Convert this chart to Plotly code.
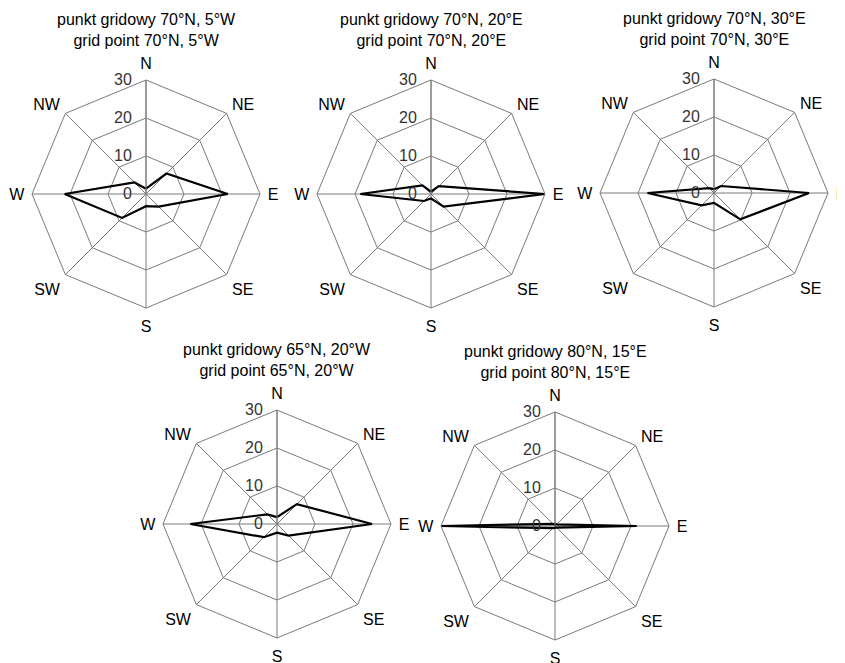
import plotly.graph_objects as go

# the page body has an 8px margin, so the figure is drawn 8px in from the corner
OFF = 8
W, H = 845 - OFF, 663 - OFF
directions = ["N", "NE", "E", "SE", "S", "SW", "W", "NW"]

titles = [
    "punkt gridowy 70°N, 5°W<br>grid point 70°N, 5°W",
    "punkt gridowy 70°N, 20°E<br>grid point 70°N, 20°E",
    "punkt gridowy 70°N, 30°E<br>grid point 70°N, 30°E",
    "punkt gridowy 65°N, 20°W<br>grid point 65°N, 20°W",
    "punkt gridowy 80°N, 15°E<br>grid point 80°N, 15°E",
]

freq_70N_5W = [1.4, 7.6, 21.5, 4.7, 3.2, 8.9, 21.4, 4.3]
freq_70N_20E = [0.6, 2.9, 30.0, 4.7, 1.2, 2.6, 18.6, 3.2]
freq_70N_30E = [1.0, 2.6, 25.0, 9.8, 2.6, 4.6, 17.5, 1.8]
freq_65N_20W = [1.8, 7.4, 25.0, 4.3, 2.3, 4.9, 22.8, 3.6]
freq_80N_15E = [0.5, 0.6, 21.5, 0.6, 0.5, 0.8, 30.0, 0.8]

series = [freq_70N_5W, freq_70N_20E, freq_70N_30E, freq_65N_20W, freq_80N_15E]

# chart centres in page pixels (from top-left) and radius
centers = [(146, 194), (431, 194), (714, 193), (277, 524), (555, 526)]
R = 114

fig = go.Figure()
grid_col = "#7a7a7a"
font_fam = "Liberation Sans, Arial, sans-serif"

for i, (vals, (px, py)) in enumerate(zip(series, centers)):
    cx, cy = px - OFF, py - OFF
    name = "polar" if i == 0 else f"polar{i+1}"
    fig.add_trace(go.Scatterpolar(
        r=vals + [vals[0]],
        theta=directions + [directions[0]],
        mode="lines",
        line=dict(color="black", width=2.2),
        subplot=name,
        showlegend=False,
        hoverinfo="skip",
    ))
    ycen = H - cy
    fig.layout[name] = dict(
        domain=dict(x=[(cx - R) / W, (cx + R) / W], y=[(ycen - R) / H, (ycen + R) / H]),
        gridshape="linear",
        bgcolor="white",
        angularaxis=dict(
            type="category",
            categoryarray=directions,
            direction="clockwise",
            rotation=90,
            showline=True,
            linecolor=grid_col,
            linewidth=1,
            gridcolor=grid_col,
            gridwidth=1,
            ticks="outside",
            ticklen=4,
            tickcolor="rgba(0,0,0,0)",
            tickfont=dict(size=16, color="black", family=font_fam),
        ),
        radialaxis=dict(
            range=[0, 30],
            tickvals=[0, 10, 20, 30],
            ticktext=["0", "10", "20", "30"],
            angle=90,
            side="counterclockwise",
            showline=True,
            linecolor=grid_col,
            linewidth=1,
            gridcolor=grid_col,
            gridwidth=1,
            ticks="outside",
            ticklen=8,
            tickcolor="rgba(0,0,0,0)",
            tickangle=90,
            tickfont=dict(size=16, color="#333333", family=font_fam),
        ),
    )
    fig.add_annotation(
        x=cx / W, y=1 - (cy - 185) / H, xref="paper", yref="paper",
        text=titles[i], showarrow=False, xanchor="center", yanchor="top",
        font=dict(size=16, color="black", family=font_fam),
    )

fig.update_layout(
    width=W, height=H,
    margin=dict(l=0, r=0, t=0, b=0),
    paper_bgcolor="white",
    plot_bgcolor="white",
)

fig.write_html("out.html")
